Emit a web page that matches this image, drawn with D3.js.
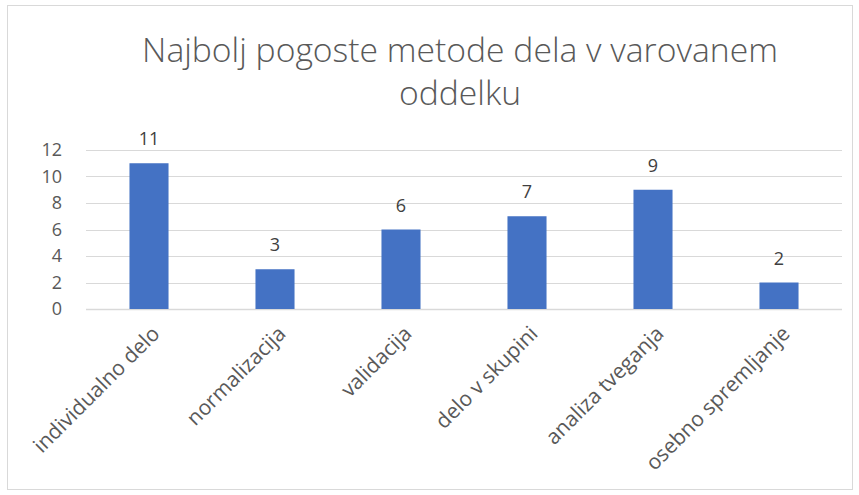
<!DOCTYPE html>
<html>
<head>
<meta charset="utf-8">
<script src="https://cdn.jsdelivr.net/npm/d3@7"></script>
<style>
  html, body { margin: 0; padding: 0; background: #fff; }
  svg { display: block; font-family: 'Open Sans', sans-serif; }
</style>
</head>
<body>
<svg width="859" height="495"></svg>
<script>
const categories = ['individualno delo', 'normalizacija', 'validacija', 'delo v skupini', 'analiza tveganja', 'osebno spremljanje'];
const values = [11, 3, 6, 7, 9, 2];
const yTicks = [0, 2, 4, 6, 8, 10, 12];
const titleLines = ['Najbolj pogoste metode dela v varovanem', 'oddelku'];

const svg = d3.select('svg');
const margin = { top: 150, right: 17, bottom: 186, left: 86 };
const graphWidth = 859 - margin.left - margin.right;
const graphHeight = 495 - margin.top - margin.bottom;
const textColor = '#595959';

// chart frame
svg.append('rect')
  .attr('x', 7.5).attr('y', 5.5)
  .attr('width', 845).attr('height', 484)
  .attr('fill', '#fff')
  .attr('stroke', '#d9d9d9');

const title = svg.append('text')
  .attr('text-anchor', 'middle')
  .attr('fill', textColor)
  .style('font-weight', 300)
  .style('font-size', '26px');
title.selectAll('tspan')
  .data(titleLines)
  .enter()
  .append('tspan')
  .attr('x', 460)
  .attr('y', (d, i) => 62 + i * 43)
  .text(d => d);
// squeeze title to the width of the original line
const w = title.select('tspan').node().getComputedTextLength();
title.style('font-size', `${26 * 636 / w}px`);

const xScale = d3.scaleBand()
  .domain(categories)
  .range([0, graphWidth])
  .paddingInner(0.69)
  .paddingOuter(0.345);

const yScale = d3.scaleLinear()
  .domain([0, 12])
  .range([graphHeight, 0]);

const graph = svg.append('g')
  .attr('transform', `translate(${margin.left}, ${margin.top})`);

graph.append('g')
  .selectAll('line')
  .data(yTicks)
  .enter()
  .append('line')
  .attr('x1', 0)
  .attr('x2', graphWidth)
  .attr('y1', d => Math.round(yScale(d)) + 0.5)
  .attr('y2', d => Math.round(yScale(d)) + 0.5)
  .attr('stroke', '#d9d9d9')
  .attr('stroke-width', d => (d === 0 ? 1.5 : 1));

const yAxis = d3.axisLeft(yScale).tickValues(yTicks).tickSize(0).tickPadding(24);
graph.append('g')
  .call(yAxis)
  .call(g => g.select('.domain').remove())
  .call(g => g.selectAll('text')
    .attr('fill', textColor)
    .style('font-size', '18px')
    .style('font-family', "'Open Sans', sans-serif"));

graph.selectAll('rect.bar')
  .data(values)
  .enter()
  .append('rect')
  .attr('class', 'bar')
  .attr('x', (d, i) => xScale(categories[i]))
  .attr('y', d => yScale(d))
  .attr('width', xScale.bandwidth())
  .attr('height', d => graphHeight - yScale(d))
  .attr('fill', '#4472c4');

graph.selectAll('text.value')
  .data(values)
  .enter()
  .append('text')
  .attr('class', 'value')
  .attr('x', (d, i) => xScale(categories[i]) + xScale.bandwidth() / 2)
  .attr('y', d => yScale(d) - 18)
  .attr('text-anchor', 'middle')
  .attr('fill', '#404040')
  .style('font-size', '18px')
  .text(d => d);

const xAxis = d3.axisBottom(xScale).tickSize(0).tickPadding(0);
const xLabels = graph.append('g')
  .attr('transform', `translate(0, ${graphHeight})`)
  .call(xAxis)
  .call(g => g.select('.domain').remove())
  .selectAll('text')
  .attr('fill', textColor)
  .attr('dy', 0)
  .attr('text-anchor', 'end')
  .attr('transform', 'translate(12, 26) rotate(-45)')
  .style('font-size', '17px')
  .style('font-family', "'Open Sans', sans-serif");
// original labels are wider (Calibri at a larger size); match the first one
const lw = xLabels.node().getComputedTextLength();
xLabels.style('font-size', `${Math.min(21, 17 * 176 / lw)}px`);
</script>
</body>
</html>
